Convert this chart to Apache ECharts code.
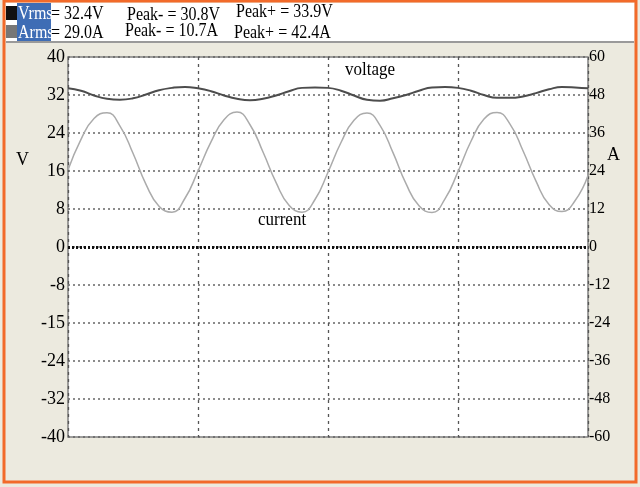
<!DOCTYPE html>
<html><head><meta charset="utf-8">
<script src="https://cdn.jsdelivr.net/npm/echarts@6/dist/echarts.min.js"></script>
<style>html,body{margin:0;padding:0;background:#fff}#c{width:640px;height:487px}</style>
</head><body><div id="c"></div>
<script>
var timeMs = [0,2,4,6,8,10,12,14,16,18,20,22,24,26,28,30,32,34,36,38,40,42,44,46,48,50,52,54,56,58,60,62,64,66,68,70,72,74,76,78,80];
var voltage = [33.4,32.9,31.9,31.2,31.0,31.3,32.1,33.0,33.5,33.7,
               33.4,32.8,31.9,31.2,30.9,31.2,31.9,32.8,33.5,33.6,
               33.5,32.9,31.9,31.0,30.8,31.3,32.0,32.9,33.6,33.7,
               33.5,32.9,32.0,31.4,31.4,31.7,32.4,33.2,33.7,33.6,33.4];
var current = [24.3,34.0,40.6,42.4,38.2,29.6,19.8,12.9,11.0,15.4,
               24.0,33.2,40.2,42.6,38.6,30.0,20.4,13.2,11.0,15.0,
               23.6,33.0,40.0,42.3,38.4,29.8,20.0,13.0,10.9,15.2,
               23.8,33.4,40.4,42.5,38.8,30.4,20.8,13.4,11.2,14.6,22.6];
var leftTicks = {'-40':'-40','-32':'-32','-24':'-24','-16':'-15','-8':'-8','0':'0','8':'8','16':'16','24':'24','32':'32','40':'40'};
var rightTickStep = 12;
var header = [
  ['Vrms','= 32.4V','Peak- = 30.8V','Peak+ = 33.9V'],
  ['Arms','= 29.0A','Peak- = 10.7A','Peak+ = 42.4A']
];

var chart = echarts.init(document.getElementById('c'), null, {renderer:'canvas'});
var serif = 'Liberation Serif';
var vData = timeMs.map(function(t,i){return [t, voltage[i]];});
var aData = timeMs.map(function(t,i){return [t, current[i]];});

function txt(x,y,s,size,color,sy){
  return {type:'text', x:x, y:y, scaleY:sy||1, z:100,
    style:{text:s, font: size+'px "'+serif+'"', fill:color||'#000', textVerticalAlign:'top'}};
}

var graphics = [
  {type:'rect', shape:{x:4,y:1,width:632,height:481}, style:{fill:'none', stroke:'#F26A2A', lineWidth:3}, z:50},
  {type:'rect', shape:{x:6,y:3,width:628,height:38}, style:{fill:'#ffffff'}, z:1},
  {type:'rect', shape:{x:6,y:41,width:628,height:2}, style:{fill:'#9a9a9a'}, z:2},
  {type:'rect', shape:{x:17,y:3,width:34,height:38}, style:{fill:'#3E6DB5'}, z:3},
  {type:'rect', shape:{x:6,y:6,width:11,height:14}, style:{fill:'#111'}, z:3},
  {type:'rect', shape:{x:6,y:25,width:11,height:13}, style:{fill:'#777'}, z:3},
  txt(18,5,header[0][0],16,'#ffffff',1.15),
  txt(51,5,header[0][1],16,null,1.15),
  txt(127,6,header[0][2],16,null,1.15),
  txt(236,3,header[0][3],16,null,1.15),
  txt(18,24,header[1][0],16,'#ffffff',1.15),
  txt(51,24,header[1][1],16,null,1.15),
  txt(125,22,header[1][2],16,null,1.15),
  txt(234,24,header[1][3],16,null,1.15),
  txt(345,61,'voltage',17,null,1.1),
  txt(258,211,'current',17,null,1.1),
  txt(16,150,'V',18,null,1.1),
  txt(607,145,'A',18,null,1.1)
];

chart.setOption({
  backgroundColor:'#ECEADF',
  animation:false,
  graphic: graphics,
  grid:{left:68, right:52, top:57, bottom:50, show:true, backgroundColor:'#ffffff', borderColor:'#808080', borderWidth:1.5},
  xAxis:{type:'value', min:0, max:80, interval:20,
    axisLine:{show:false}, axisTick:{show:false}, axisLabel:{show:false},
    splitLine:{show:true, lineStyle:{color:'#555', type:[3,4], width:1.3}}},
  yAxis:[
    {type:'value', min:-40, max:40, interval:8, position:'left',
      axisLine:{show:false}, axisTick:{show:false},
      axisLabel:{margin:3, color:'#000', fontFamily:serif, fontSize:18,
        formatter:function(v){return leftTicks[String(v)];}},
      splitLine:{show:true, lineStyle:{color:'#666', type:[2,3], width:1.5}}},
    {type:'value', min:-60, max:60, interval:rightTickStep, position:'right',
      axisLine:{show:false}, axisTick:{show:false},
      axisLabel:{margin:1, color:'#000', fontFamily:serif, fontSize:16},
      splitLine:{show:false}}
  ],
  series:[
    {name:'current', type:'line', yAxisIndex:1, data:aData, smooth:0.5, symbol:'none',
      lineStyle:{color:'#ababab', width:1.5}, z:3},
    {name:'voltage', type:'line', yAxisIndex:0, data:vData, smooth:0.5, symbol:'none',
      lineStyle:{color:'#4d4d4d', width:2}, z:4,
      markLine:{silent:true, symbol:'none', label:{show:false},
        lineStyle:{color:'#111', type:[2,2], width:3}, data:[{yAxis:0}]}}
  ]
});
</script></body></html>
